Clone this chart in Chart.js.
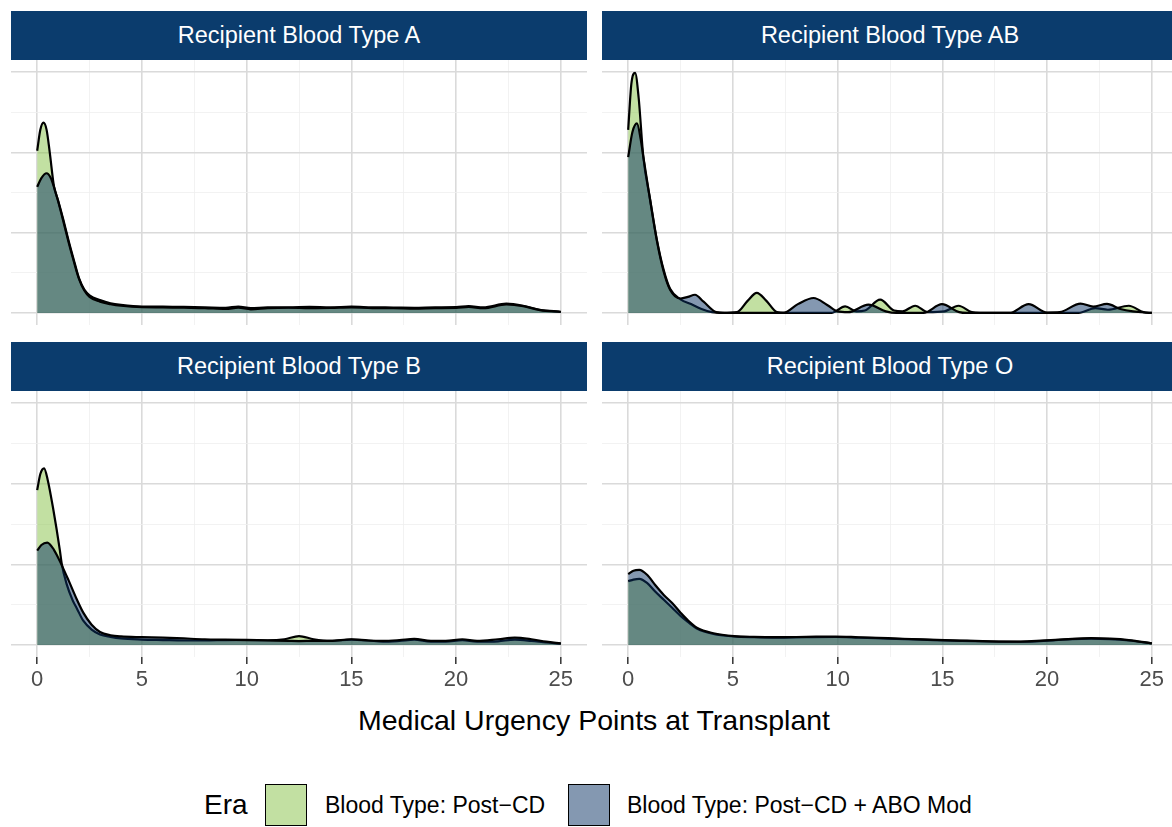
<!DOCTYPE html>
<html>
<head>
<meta charset="utf-8">
<script src="https://cdn.jsdelivr.net/npm/chart.js@4.4.1/dist/chart.umd.min.js"></script>
<style>
body { margin: 0; width: 1172px; height: 827px; overflow: hidden; background: #fff; position: relative;
       font-family: "Liberation Sans", Arial, sans-serif; }
canvas { position: absolute; }
.strip { position: absolute; background: #0b3c6d; color: #fff; font-size: 23.5px;
         display: flex; align-items: center; justify-content: center; }
.txt { position: absolute; white-space: nowrap; line-height: 40px; }
.key { position: absolute; width: 42px; height: 42px; box-sizing: border-box; border: 1.6px solid #000; }
</style>
</head>
<body>
<script>
const xTicks = [0, 5, 10, 15, 20, 25]
const xGrid = [0, 2.5, 5, 7.5, 10, 12.5, 15, 17.5, 20, 22.5, 25]
const panelTitles = ['Recipient Blood Type A', 'Recipient Blood Type AB', 'Recipient Blood Type B', 'Recipient Blood Type O']
const seriesNames = ['Blood Type: Post\u2212CD', 'Blood Type: Post\u2212CD + ABO Mod']

// density estimates, [points, density]
const aPost = [[0,0.202],[0.15,0.228],[0.3,0.237],[0.45,0.228],[0.6,0.2],[0.8,0.158],[1.0,0.14],[1.25,0.116],[1.5,0.09],[1.75,0.066],[2.0,0.043],[2.25,0.029],[2.5,0.022],[3.0,0.016],[3.5,0.012],[4.0,0.010],[5,0.008],[6,0.008],[7,0.0075],[8,0.007],[9,0.0065],[9.6,0.008],[10.2,0.006],[11,0.007],[12,0.007],[13,0.0075],[14,0.007],[15,0.0078],[16,0.007],[17,0.0068],[18,0.0065],[19,0.007],[20,0.0072],[20.6,0.0085],[21.3,0.007],[22.4,0.0115],[23.2,0.009],[24,0.004],[25,0.0015]]
const aAbo = [[0,0.157],[0.2,0.168],[0.45,0.174],[0.65,0.168],[0.8,0.157],[1.0,0.139],[1.25,0.114],[1.5,0.088],[1.75,0.064],[2.0,0.042],[2.25,0.028],[2.5,0.02],[3,0.014],[3.5,0.011],[4,0.009],[5,0.0072],[6,0.007],[7,0.0065],[8,0.006],[9,0.005],[9.6,0.0065],[10.2,0.0045],[11,0.006],[12,0.0065],[13,0.006],[14,0.0062],[15,0.007],[16,0.006],[17,0.006],[18,0.0055],[19,0.006],[20,0.0062],[20.6,0.0075],[21.3,0.006],[22.4,0.0105],[23.2,0.0085],[24,0.0035],[25,0.0012]]

const abPost = [[0,0.228],[0.15,0.285],[0.33,0.299],[0.5,0.268],[0.72,0.195],[1.05,0.141],[1.37,0.091],[1.69,0.054],[2.0,0.03],[2.5,0.017],[3.0,0.011],[3.5,0.005],[4.0,0.001],[4.5,0],[5.2,0.001],[5.7,0.015],[6.14,0.025],[6.6,0.015],[7.1,0.001],[7.5,0],[9.7,0],[10.36,0.0082],[10.9,0.002],[11.3,0.003],[12.03,0.0165],[12.7,0.003],[13.1,0.002],[13.7,0.009],[14.3,0.001],[15.1,0.002],[15.77,0.009],[16.4,0.001],[16.8,0],[21.5,0],[22.3,0.006],[22.9,0.004],[23.9,0.009],[24.6,0.001],[25,0]]
const abAbo = [[0,0.194],[0.2,0.225],[0.42,0.236],[0.6,0.216],[0.72,0.195],[1.05,0.14],[1.37,0.09],[1.69,0.052],[2.0,0.029],[2.5,0.018],[2.85,0.02],[3.19,0.0227],[3.6,0.014],[4.2,0.001],[4.6,0],[7.4,0],[8.1,0.011],[8.85,0.0186],[9.5,0.01],[10.0,0.002],[10.5,0.001],[11.47,0.0103],[12.3,0.002],[12.8,0],[14.1,0],[14.98,0.011],[15.8,0.001],[16.2,0],[18.2,0],[19.12,0.011],[20.0,0.0005],[20.6,0.001],[21.6,0.0116],[22.2,0.008],[22.86,0.0112],[23.5,0.005],[24.1,0.002],[25,0]]

const bPost = [[0,0.192],[0.15,0.212],[0.33,0.219],[0.5,0.205],[0.77,0.168],[1.08,0.118],[1.17,0.101],[1.4,0.076],[1.7,0.055],[1.9,0.045],[2.2,0.03],[2.6,0.019],[3.0,0.013],[3.5,0.010],[4,0.008],[5,0.0066],[6,0.006],[7,0.0055],[8,0.0055],[9,0.006],[10,0.0062],[11,0.0058],[11.8,0.007],[12.5,0.011],[13.2,0.007],[14,0.005],[15,0.0065],[15.8,0.0055],[16.5,0.004],[17.3,0.005],[18,0.0065],[18.8,0.004],[19.5,0.004],[20.3,0.006],[21,0.004],[22,0.0045],[22.8,0.0065],[23.6,0.005],[24.3,0.003],[25,0.0015]]
const bAbo = [[0,0.117],[0.2,0.124],[0.48,0.127],[0.8,0.118],[1.17,0.099],[1.5,0.08],[1.9,0.056],[2.2,0.04],[2.6,0.025],[3.0,0.016],[3.5,0.012],[4,0.0105],[5,0.0096],[6,0.009],[7,0.008],[8,0.007],[9,0.0065],[10,0.006],[11,0.0055],[12,0.005],[12.5,0.0048],[13.2,0.005],[14,0.005],[15,0.007],[15.8,0.0055],[16.5,0.005],[17.3,0.006],[18,0.0075],[18.8,0.005],[19.5,0.005],[20.3,0.007],[21,0.005],[22,0.007],[22.8,0.009],[23.6,0.007],[24.3,0.004],[25,0.002]]

const oPost = [[0,0.079],[0.25,0.081],[0.53,0.082],[0.9,0.077],[1.3,0.066],[1.7,0.056],[2.1,0.046],[2.5,0.036],[2.83,0.029],[3.3,0.02],[4.07,0.0135],[5.05,0.0105],[6,0.0095],[7.08,0.009],[8.5,0.0095],[9.9,0.0098],[11,0.009],[12.4,0.0078],[14,0.0065],[15.9,0.005],[17.3,0.0042],[18.6,0.0039],[19.5,0.0045],[20.4,0.0058],[21.2,0.0072],[22.1,0.0078],[23,0.0072],[23.9,0.0055],[25,0.0018]]
const oAbo = [[0,0.088],[0.25,0.092],[0.53,0.093],[0.9,0.087],[1.3,0.074],[1.7,0.062],[2.1,0.052],[2.5,0.04],[2.83,0.031],[3.3,0.021],[4.07,0.0145],[5.05,0.011],[6,0.01],[7.08,0.0096],[8.5,0.01],[9.9,0.0104],[11,0.0095],[12.4,0.0083],[14,0.0068],[15.9,0.0054],[17.3,0.0045],[18.6,0.0041],[19.5,0.005],[20.4,0.0062],[21.2,0.0076],[22.1,0.0083],[23,0.0077],[23.9,0.006],[25,0.002]]

const postFill = 'rgba(133,193,69,0.5)'
const aboFill = 'rgba(10,50,100,0.5)'

Chart.defaults.font.family = '"Liberation Sans", Arial, sans-serif'
Chart.defaults.animation = false

const panels = [
    {title: panelTitles[0], post: aPost, abo: aAbo, left: 11, top: 11, bottom: false},
    {title: panelTitles[1], post: abPost, abo: abAbo, left: 602, top: 11, bottom: false},
    {title: panelTitles[2], post: bPost, abo: bAbo, left: 11, top: 342, bottom: true},
    {title: panelTitles[3], post: oPost, abo: oAbo, left: 602, top: 342, bottom: true},
]

const toXY = arr => arr.map(p => ({x: p[0], y: p[1]}))
const isMajorX = v => xTicks.includes(v)
const isMajorY = v => Math.round(v * 100) % 10 === 0

function el(tag, cls, styles, text){
    const e = document.createElement(tag)
    if (cls) e.className = cls
    Object.assign(e.style, styles)
    if (text) e.textContent = text
    document.body.appendChild(e)
    return e
}

function makePanel(p){
    const width = 576
    const stripH = 49
    const plotH = p.bottom ? 266 : 265
    const axisH = p.bottom ? 43 : 0
    el('div', 'strip', {left: p.left + 'px', top: p.top + 'px', width: width + 'px', height: stripH + 'px'}, p.title)

    const canvas = el('canvas', null, {left: p.left + 'px', top: (p.top + stripH) + 'px'})
    canvas.width = width
    canvas.height = plotH + axisH

    const series = (data, color, order) => ({
        data: toXY(data),
        backgroundColor: color,
        borderColor: '#000',
        borderWidth: 2.2,
        borderJoinStyle: 'round',
        pointRadius: 0,
        fill: 'origin',
        cubicInterpolationMode: 'monotone',
        order: order
    })

    new Chart(canvas, {
        type: 'line',
        data: {
            datasets: [series(p.abo, aboFill, 1), series(p.post, postFill, 2)]
        },
        options: {
            responsive: false,
            devicePixelRatio: 1,
            layout: {padding: 0},
            scales: {
                x: {
                    type: 'linear',
                    min: -1.25,
                    max: 26.25,
                    border: {display: false},
                    afterFit: s => { s.height = axisH },
                    afterBuildTicks: s => { s.ticks = xGrid.map(v => ({value: v})) },
                    grid: {
                        color: ctx => ctx.tick && isMajorX(ctx.tick.value) ? '#dadada' : '#efefef',
                        lineWidth: ctx => ctx.tick && isMajorX(ctx.tick.value) ? 1.6 : 0.8,
                        drawTicks: p.bottom,
                        tickLength: 7,
                        tickWidth: 1.5,
                        tickColor: ctx => ctx.tick && isMajorX(ctx.tick.value) ? '#333333' : 'rgba(0,0,0,0)'
                    },
                    ticks: {
                        display: p.bottom,
                        autoSkip: false,
                        maxRotation: 0,
                        padding: 3,
                        color: '#4d4d4d',
                        font: {size: 22},
                        callback: v => isMajorX(v) ? String(v) : ''
                    }
                },
                y: {
                    min: -0.015,
                    max: 0.315,
                    border: {display: false},
                    afterFit: s => { s.width = 0 },
                    grid: {
                        color: ctx => ctx.tick && isMajorY(ctx.tick.value) ? '#dadada' : '#efefef',
                        lineWidth: ctx => ctx.tick && isMajorY(ctx.tick.value) ? 1.6 : 0.8,
                        drawTicks: false
                    },
                    ticks: {display: false, stepSize: 0.05, includeBounds: false}
                }
            },
            plugins: {
                legend: {display: false},
                tooltip: {enabled: false}
            }
        }
    })
}

panels.forEach(makePanel)

// axis title and legend
el('div', 'txt', {left: '0px', width: '1188px', textAlign: 'center', top: '700px', fontSize: '28.5px', color: '#000'}, 'Medical Urgency Points at Transplant')
el('div', 'txt', {left: '204px', top: '785px', fontSize: '28px', color: '#000'}, 'Era')
el('div', 'key', {left: '265px', top: '784px', background: postFill})
el('div', 'txt', {left: '325px', top: '785px', fontSize: '23px', color: '#000'}, seriesNames[0])
el('div', 'key', {left: '568px', top: '784px', background: aboFill})
el('div', 'txt', {left: '627px', top: '785px', fontSize: '23px', color: '#000'}, seriesNames[1])
</script>
</body>
</html>
